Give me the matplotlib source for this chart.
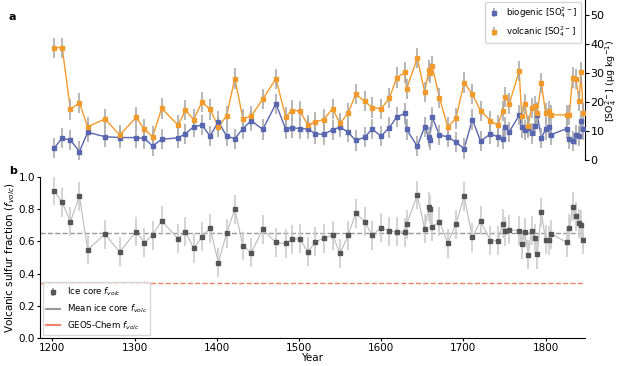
import matplotlib
matplotlib.use("Agg")
import matplotlib.pyplot as plt
from matplotlib.lines import Line2D

# years of the ice core samples
years = [1202, 1212, 1222, 1233, 1243, 1264, 1282, 1302, 1312, 1322, 1333, 1353,
         1362, 1372, 1382, 1392, 1402, 1412, 1422, 1432, 1442, 1456, 1472, 1484,
         1491, 1501, 1511, 1520, 1530, 1541, 1550, 1560, 1569, 1580, 1589, 1600,
         1610, 1619, 1629, 1631, 1644, 1653, 1658, 1659, 1662, 1671, 1681, 1691,
         1701, 1711, 1721, 1733, 1742, 1748, 1751, 1756, 1768, 1771, 1775, 1779,
         1783, 1787, 1790, 1795, 1800, 1804, 1807, 1826, 1829, 1833, 1837, 1841,
         1843, 1846]

# volcanic sulfate (ug/kg)
volcanic = [38.6, 38.6, 17.4, 19.6, 11.4, 14.1, 8.6, 14.6, 10.5, 8.0, 17.7, 12.0,
            17.1, 13.9, 19.9, 17.4, 11.4, 15.1, 28.0, 14.1, 15.1, 20.9, 27.9, 14.8,
            17.0, 16.9, 12.0, 13.1, 13.9, 17.6, 12.6, 16.1, 22.6, 20.2, 18.0, 17.6,
            21.2, 28.3, 30.1, 24.4, 35.0, 23.4, 30.8, 29.9, 32.4, 21.4, 11.4, 14.3,
            26.6, 22.6, 16.9, 13.5, 11.9, 16.9, 21.7, 19.4, 30.6, 15.1, 19.2, 11.8,
            17.8, 18.5, 16.3, 26.5, 16.2, 16.8, 15.5, 15.5, 15.5, 28.3, 27.8, 20.3,
            30.1, 16.2]

# biogenic sulfate (ug/kg)
biogenic = [4.0, 7.5, 6.8, 2.9, 9.5, 8.0, 7.7, 7.7, 7.4, 4.8, 7.1, 7.6,
            9.0, 11.4, 12.0, 8.2, 13.2, 8.2, 7.3, 10.8, 13.5, 10.5, 19.3, 10.6,
            11.1, 10.8, 10.6, 9.0, 8.8, 10.4, 11.3, 9.5, 6.7, 7.8, 10.6, 8.2,
            11.1, 14.8, 16.0, 10.5, 4.7, 11.4, 7.8, 6.8, 14.8, 8.5, 8.0, 6.1,
            3.9, 13.9, 6.5, 8.9, 8.0, 7.1, 11.2, 9.7, 15.4, 11.2, 10.3, 11.0,
            9.1, 11.8, 15.5, 7.5, 10.5, 11.2, 8.7, 10.8, 7.3, 6.5, 8.6, 8.2,
            13.5, 10.5]

# volcanic fraction
f_volc = [0.914, 0.844, 0.724, 0.88, 0.549, 0.646, 0.535, 0.662, 0.593, 0.64, 0.728, 0.617,
          0.66, 0.557, 0.63, 0.683, 0.469, 0.652, 0.80, 0.572, 0.531, 0.675, 0.594, 0.588,
          0.613, 0.617, 0.535, 0.597, 0.621, 0.638, 0.527, 0.638, 0.776, 0.724, 0.638, 0.685,
          0.665, 0.66, 0.658, 0.708, 0.889, 0.679, 0.817, 0.80, 0.691, 0.724, 0.59, 0.708,
          0.88, 0.625, 0.728, 0.605, 0.605, 0.71, 0.665, 0.673, 0.667, 0.582, 0.658, 0.519,
          0.667, 0.621, 0.52, 0.782, 0.611, 0.609, 0.646, 0.594, 0.681, 0.817, 0.757, 0.714,
          0.704, 0.611]

err_so4 = 3.5
err_f = 0.09
mean_f = 0.655
geos_f = 0.344

c_bio = "#5866b0"
c_volc = "#f39a2c"
c_ice = "#555555"
c_geos = "#f4826a"

fig = plt.figure(figsize=(6.19, 3.66), dpi=100)
ax_a = fig.add_axes([0.0646, 0.563, 0.8804, 0.437])
ax_b = fig.add_axes([0.0646, 0.0765, 0.8804, 0.4395], sharex=ax_a)

# panel a
ax_a.plot(years, volcanic, "-", color=c_volc, lw=1, zorder=2)
ax_a.plot(years, biogenic, "-", color=c_bio, lw=1, zorder=2)
ax_a.errorbar(years, biogenic, yerr=err_so4, fmt="s", ms=3.5, color=c_bio,
              ecolor="#aaaaaa", elinewidth=1.2, label="biogenic [SO$_4^{2-}$]", zorder=3)
ax_a.errorbar(years, volcanic, yerr=err_so4, fmt="s", ms=3.5, color=c_volc,
              ecolor="#aaaaaa", elinewidth=1.2, label="volcanic [SO$_4^{2-}$]", zorder=3)
ax_a.set_ylim(0, 55)
ax_a.yaxis.tick_right()
ax_a.set_yticks([0, 10, 20, 30, 40, 50])
ax_a.tick_params(axis="y", labelsize=8, length=3, pad=1)
ax_a.tick_params(axis="x", bottom=False, labelbottom=False)
for s in ["left", "top", "bottom"]:
    ax_a.spines[s].set_visible(False)
ax_a.legend(loc="upper right", fontsize=6.2, bbox_to_anchor=(0.995, 1.0), borderaxespad=0.2,
            handlelength=1.2, handletextpad=0.8)
ax_a.patch.set_alpha(0)
# right-hand unit label, placed as figure text so it stays inside the canvas
fig.text(0.988, 0.78, "[SO$_4^{2-}$] (μg kg$^{-1}$)", fontsize=6.8, rotation=90,
         ha="center", va="center")

# panel b
ax_b.plot(years, f_volc, "-", color="#bbbbbb", lw=0.8, zorder=2)
ax_b.errorbar(years, f_volc, yerr=err_f, fmt="s", ms=3.5, color=c_ice,
              ecolor="#cccccc", elinewidth=1.2, zorder=3)
ax_b.axhline(mean_f, color="#999999", ls="--", lw=1, zorder=1)
ax_b.axhline(geos_f, color=c_geos, ls="--", lw=1, zorder=1)
ax_b.set_ylim(0, 1.0)
ax_b.set_xlim(1185, 1848)
ax_b.set_xticks([1200, 1300, 1400, 1500, 1600, 1700, 1800])
ax_b.tick_params(labelsize=7.5, length=2.5, pad=1.2)
for s in ["top", "right"]:
    ax_b.spines[s].set_visible(False)
ax_b.set_xlabel("Year", fontsize=7.5, labelpad=0)
ax_b.set_ylabel("Volcanic sulfur fraction ($f_{volc}$)", fontsize=7.5, labelpad=1)

handles = [
    ax_b.errorbar([], [], yerr=[], fmt="s", ms=3.5, color=c_ice, ecolor="#aaaaaa"),
    Line2D([], [], color="#999999", lw=1.5),
    Line2D([], [], color=c_geos, lw=1.5),
]
ax_b.legend(handles, ["Ice core $f_{volc}$", "Mean ice core $f_{volc}$", "GEOS-Chem $f_{volc}$"],
            loc="lower left", fontsize=6.2, handlelength=1.6, borderaxespad=0.3)

fig.text(0.014, 0.945, "a", fontsize=8, fontweight="bold")
fig.text(0.014, 0.525, "b", fontsize=8, fontweight="bold")

fig.savefig("out.png", dpi=100)
